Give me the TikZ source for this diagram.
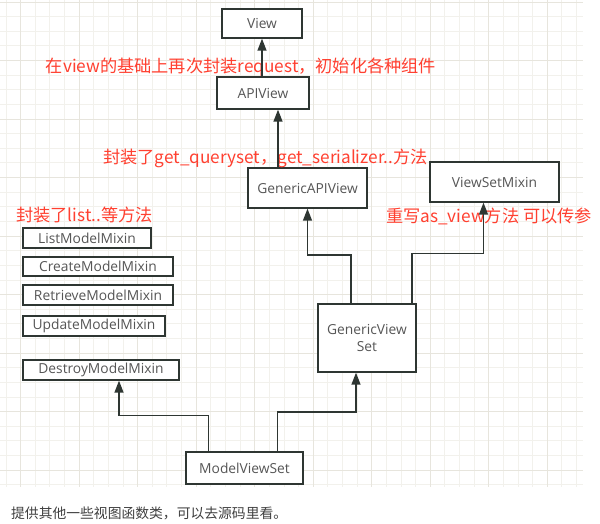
\documentclass[tikz,border=0pt]{standalone}
\usepackage{fontspec}
\usepackage{xcolor}
\usepackage{tikz}
\usetikzlibrary{arrows.meta, positioning, calc}
\newfontfamily\cjk{Noto Sans CJK SC}
\newfontfamily\labelfont{Open Sans}
\definecolor{notecolor}{RGB}{255, 64, 48}
\definecolor{gridminor}{RGB}{242, 241, 236}
\definecolor{gridmajor}{RGB}{231, 229, 221}
\definecolor{arrowcolor}{RGB}{46, 54, 50}
\definecolor{textgray}{RGB}{85, 85, 85}

\begin{document}
\begin{tikzpicture}[
    x=1pt, y=-1pt,
    box/.style={draw=arrowcolor, line width=1.4pt, fill=white, inner sep=0pt, align=center, text=textgray, font=\labelfont\fontsize{13.8}{17}\selectfont},
    note/.style={text=notecolor, inner sep=0pt, font=\cjk\fontsize{17.2}{19}\selectfont},
    arrow/.style={-{Triangle[length=12pt, width=9pt]}, line width=1.5pt, draw=arrowcolor}
]
    \useasboundingbox (0,0) rectangle (600,523);
    \fill[white] (0,0) rectangle (600,523);

    % grid
    \foreach \i in {0,...,39}
        \draw[gridminor, line width=0.9pt] ({6+14.63*\i},0) -- ({6+14.63*\i},487);
    \foreach \j in {0,...,33}
        \draw[gridminor, line width=0.9pt] (0,{2+14.63*\j}) -- (583,{2+14.63*\j});
    \foreach \i in {1,5,...,37}
        \draw[gridmajor, line width=0.9pt] ({6+14.63*\i},0) -- ({6+14.63*\i},487);
    \foreach \j in {0,4,...,32}
        \draw[gridmajor, line width=0.9pt] (0,{2+14.63*\j}) -- (583,{2+14.63*\j});

    \node[box, minimum width=80, minimum height=29] (view) at (262,23.5) {View};
    \node[box, minimum width=92, minimum height=32] (apiview) at (263,93) {APIView};
    \node[box, minimum width=119, minimum height=40] (genericapiview) at (307.5,188) {GenericAPIView};
    \node[box, minimum width=129, minimum height=40] (viewsetmixin) at (494.5,182) {ViewSetMixin};
    \node[box, minimum width=128, minimum height=20] (list) at (87,238) {ListModelMixin};
    \node[box, minimum width=150, minimum height=19] (create) at (98,266.5) {CreateModelMixin};
    \node[box, minimum width=150, minimum height=20] (retrieve) at (98,295) {RetrieveModelMixin};
    \node[box, minimum width=142, minimum height=20] (update) at (94,326) {UpdateModelMixin};
    \node[box, minimum width=156, minimum height=20] (destroy) at (101,370) {DestroyModelMixin};
    \node[box, minimum width=98, minimum height=68] (genericviewset) at (367,338) {GenericView\\Set};
    \node[box, minimum width=117, minimum height=32] (modelviewset) at (244.5,468) {ModelViewSet};

    \node[note] (noteapi) at (241,67) {在view的基础上再次封装request，初始化各种组件};
    \node[note] (notegeneric) at (265.5,158) {封装了get\_queryset，get\_serializer..方法};
    \node[note] (notemixin) at (84.5,215) {封装了list..等方法};
    \node[note] (noteviewset) at (489,216) {重写as\_view方法 可以传参};
    \node[text=black!75, inner sep=0pt, anchor=west, font=\cjk\fontsize{13.8}{16}\selectfont] (caption) at (11,513) {提供其他一些视图函数类，可以去源码里看。};

    \draw[arrow] (apiview.north -| view.south) -- (view.south);
    \draw[arrow] ([xshift=-29.5pt]genericapiview.north) -- ([xshift=-29.5pt]genericapiview.north |- apiview.south);
    \draw[arrow] ([xshift=-16pt]genericviewset.north) -- ++(0,-48.5) -| (genericapiview.south);
    \draw[arrow] ([xshift=45pt]genericviewset.north) -- ++(0,-50) -| ([xshift=-11pt]viewsetmixin.south);
    \draw[arrow] ([xshift=-36pt]modelviewset.north) -- ++(0,-36) -| ([xshift=18pt]destroy.south);
    \draw[arrow] ([xshift=33pt]modelviewset.north) -- ++(0,-39.5) -| ([xshift=-11pt]genericviewset.south);
\end{tikzpicture}
\end{document}
